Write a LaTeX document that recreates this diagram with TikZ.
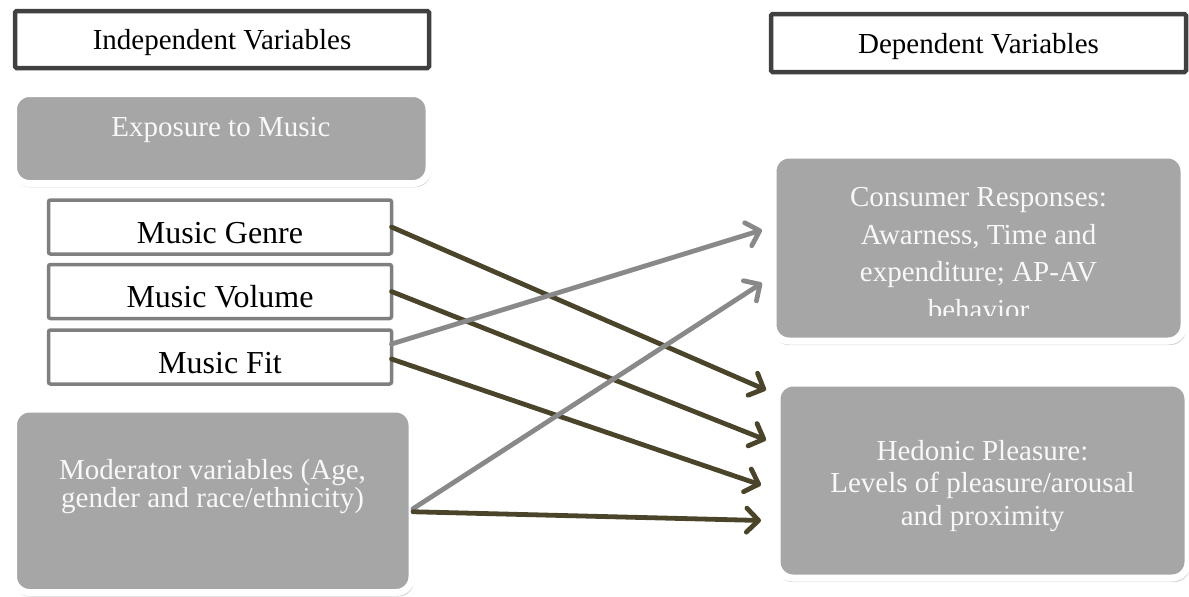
\documentclass[tikz,border=0pt]{standalone}
\usepackage{fontspec}
\setmainfont{Liberation Serif}
\usetikzlibrary{arrows.meta,calc,shadows}
\definecolor{boxgray}{HTML}{A6A6A6}
\definecolor{arrowdark}{HTML}{4A452A}
\definecolor{arrowgray}{HTML}{898989}
\definecolor{framedark}{HTML}{404040}
\definecolor{framegray}{HTML}{7F7F7F}
\definecolor{softwhite}{HTML}{F8F8F8}

\begin{document}
\begin{tikzpicture}[x=1pt,y=-1pt,
  every node/.style={inner sep=0pt,outer sep=0pt},
  txt/.style={font=\fontsize{29}{32}\selectfont},
  header/.style={draw=framedark,line width=4.5pt,fill=white,rounded corners=1.5pt,txt,
    text height=20pt,text depth=0pt,
    drop shadow={shadow xshift=0pt,shadow yshift=-2pt,opacity=.2}},
  itembox/.style={draw=framegray,line width=3.5pt,fill=white,rounded corners=2pt,
    font=\fontsize{32}{36}\selectfont,text height=32pt,text depth=0pt,
    minimum width=343pt,minimum height=54pt},
  graybox/.style={draw=white,line width=7pt,fill=boxgray,rounded corners=16pt,
    drop shadow={shadow xshift=1pt,shadow yshift=-3.5pt,shadow scale=1.006,opacity=.35}},
  graytext/.style={txt,text=softwhite,align=center},
  tipshape/.style={-{Straight Barb[length=12pt,width=24pt,round]}},
  darkarrow/.style={draw=arrowdark,line width=4.8pt,line cap=round,tipshape},
  grayarrow/.style={draw=arrowgray,line width=4.8pt,line cap=round,tipshape}]
\useasboundingbox (0,0) rectangle (1189,597);

% column headings
\node[header,minimum width=414pt,minimum height=57pt] (indep) at (222,39.5) {Independent Variables};
\node[header,minimum width=415pt,minimum height=58pt] (dep) at (978.5,43) {Dependent Variables};

% rounded grey boxes
\node[graybox,minimum width=415.5pt,minimum height=90pt] (expo) at (221.25,138.5) {};
\node[graytext,anchor=base] (expotext) at (221,136) {Exposure to Music};

\node[graybox,minimum width=398.5pt,minimum height=183.5pt] (mod) at (212.75,500.75) {};
\node[graytext,font=\fontsize{29}{28}\selectfont] (modtext) at (212.5,487)
  {Moderator variables (Age,\\gender and race/ethnicity)};

\node[graybox,minimum width=411pt,minimum height=186pt] (cons) at (978.5,248) {};
\begin{scope}
  \clip (780,160) rectangle (1178,315);
  \node[graytext,font=\fontsize{29}{37.5}\selectfont,anchor=north] (constext) at (978.5,187.5)
    {Consumer Responses:\\Awarness, Time and\\expenditure; AP-AV\\behavior};
\end{scope}

\node[graybox,minimum width=411pt,minimum height=195pt] (hed) at (982.5,480.5) {};
\node[graytext,font=\fontsize{29}{32.5}\selectfont] (hedtext) at (982.5,486)
  {Hedonic Pleasure:\\Levels of pleasure/arousal\\and proximity};

% music attributes
\node[itembox] (genre) at (220,227) {Music Genre};
\node[itembox] (volume) at (220,291.5) {Music Volume};
\node[itembox] (fit) at (220,357) {Music Fit};

% influence arrows
\draw[darkarrow] (genre.east) -- ($(hed.west)+(-11,-90.5)$);
\draw[darkarrow] (volume.east) -- ($(hed.west)+(-11,-40.5)$);
\draw[grayarrow] ($(fit.east)+(0,-13)$) -- ($(cons.west)+(-11,-18)$);
\draw[darkarrow] ($(fit.east)+(0,2)$) -- ($(hed.west)+(-16,4.5)$);
\draw[grayarrow] ($(mod.east)+(1,8)$) -- ($(cons.west)+(-11,35)$);
\draw[darkarrow] ($(mod.east)+(1,11)$) -- ($(hed.west)+(-16,40)$);
\end{tikzpicture}
\end{document}
